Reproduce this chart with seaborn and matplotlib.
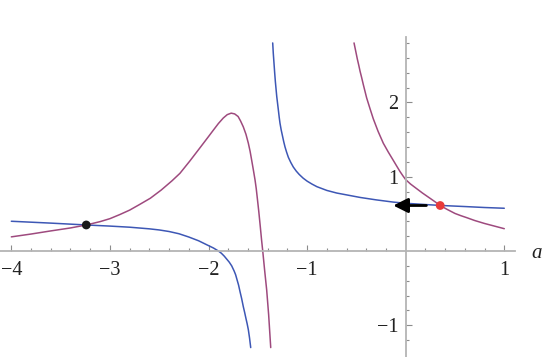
import numpy as np
import pandas as pd
import seaborn as sns
import matplotlib.pyplot as plt

# blue curve, two branches (a, value)
blue_left_a = [-4.0, -3.6, -3.24, -3.0, -2.8, -2.6, -2.5, -2.4, -2.3, -2.2, -2.1, -2.02,
               -1.95, -1.9, -1.87, -1.84, -1.815, -1.79, -1.765, -1.74, -1.725, -1.71,
               -1.695, -1.68, -1.664, -1.647, -1.633, -1.62, -1.608, -1.596, -1.584, -1.572]
blue_left_v = [0.40, 0.375, 0.35, 0.335, 0.32, 0.298, 0.283, 0.262, 0.232, 0.188, 0.137, 0.085,
               0.04, 0.0, -0.03, -0.07, -0.11, -0.15, -0.20, -0.27, -0.32, -0.39,
               -0.46, -0.55, -0.64, -0.75, -0.83, -0.91, -0.98, -1.06, -1.17, -1.30]
blue_right_a = [-1.349, -1.343, -1.336, -1.329, -1.322, -1.315, -1.308, -1.299, -1.29, -1.283,
                -1.275, -1.263, -1.25, -1.237, -1.224, -1.208, -1.19, -1.165, -1.14, -1.11,
                -1.08, -1.04, -1.0, -0.95, -0.9, -0.85, -0.8, -0.7, -0.6, -0.46, -0.3,
                -0.126, 0.0, 0.2, 0.35, 0.6, 0.8, 1.0]
blue_right_v = [2.80, 2.66, 2.53, 2.40, 2.28, 2.18, 2.08, 1.98, 1.88, 1.80,
                1.72, 1.63, 1.55, 1.47, 1.40, 1.33, 1.26, 1.19, 1.13, 1.075,
                1.03, 0.98, 0.94, 0.90, 0.865, 0.84, 0.815, 0.78, 0.755, 0.72, 0.688,
                0.658, 0.642, 0.625, 0.613, 0.598, 0.585, 0.575]

# purple curve, two branches
purple_left_a = [-4.0, -3.8, -3.61, -3.4, -3.24, -3.1, -3.0, -2.9, -2.8, -2.7, -2.59, -2.48,
                 -2.37, -2.29, -2.19, -2.086, -2.0, -1.95, -1.9, -1.85, -1.81, -1.77, -1.735,
                 -1.70, -1.675, -1.647, -1.62, -1.596, -1.578, -1.562, -1.545, -1.528, -1.516,
                 -1.505, -1.49, -1.475, -1.462, -1.45, -1.43, -1.41, -1.39, -1.369]
purple_left_v = [0.19, 0.228, 0.268, 0.31, 0.35, 0.395, 0.435, 0.49, 0.55, 0.625, 0.71, 0.82,
                 0.945, 1.045, 1.21, 1.39, 1.54, 1.628, 1.715, 1.79, 1.835, 1.855, 1.845,
                 1.81, 1.75, 1.67, 1.57, 1.45, 1.34, 1.22, 1.09, 0.955, 0.84,
                 0.71, 0.53, 0.33, 0.15, 0.0, -0.27, -0.525, -0.86, -1.30]
purple_right_a = [-0.524, -0.507, -0.49, -0.476, -0.463, -0.446, -0.43, -0.413, -0.396, -0.363,
                  -0.329, -0.28, -0.227, -0.176, -0.126, -0.09, -0.058, -0.03, 0.0, 0.05,
                  0.1, 0.17, 0.246, 0.3, 0.35, 0.42, 0.5, 0.56, 0.62, 0.7, 0.8, 0.9, 1.0]
purple_right_v = [2.80, 2.69, 2.58, 2.50, 2.42, 2.33, 2.24, 2.15, 2.06, 1.92,
                  1.78, 1.61, 1.45, 1.33, 1.22, 1.14, 1.07, 1.015, 0.96, 0.90,
                  0.85, 0.78, 0.71, 0.66, 0.612, 0.56, 0.505, 0.475, 0.448, 0.41, 0.37, 0.335, 0.30]

# marked points and arrow
black_pt = (-3.24, 0.35)
red_pt = (0.35, 0.612)
arrow_from = (0.21, 0.612)
arrow_to = (-0.126, 0.612)

x_ticks = [-4, -3, -2, -1, 1]
y_ticks = [-1, 1, 2]

blue = '#3d57b5'
purple = '#9e4a7e'

sns.set_style('white')
plt.rcParams['font.family'] = ['Liberation Serif', 'DejaVu Serif']

fig = plt.figure(figsize=(5.45, 3.57), dpi=100)
ax = fig.add_axes([0, 0, 1, 1])

for xs, ys, c in [(blue_left_a, blue_left_v, blue), (blue_right_a, blue_right_v, blue),
                  (purple_left_a, purple_left_v, purple), (purple_right_a, purple_right_v, purple)]:
    sns.lineplot(x=xs, y=ys, sort=False, estimator=None, color=c, lw=1.1, ax=ax)

ax.annotate('', xy=arrow_to, xytext=arrow_from,
            arrowprops=dict(arrowstyle='-|>', color='black', lw=2, mutation_scale=22,
                            shrinkA=0, shrinkB=0))

pts = pd.DataFrame({'a': [black_pt[0], red_pt[0]], 'v': [black_pt[1], red_pt[1]],
                    'kind': ['black', 'red']})
sns.scatterplot(data=pts, x='a', y='v', hue='kind', palette={'black': '#1a1a1a', 'red': '#e83a3a'},
                s=40, edgecolor='none', legend=False, zorder=5, ax=ax)

ax.set_xlim(-4.115, 1.413)
ax.set_ylim(-1.427, 3.378)

for side in ['top', 'right']:
    ax.spines[side].set_visible(False)
ax.spines['bottom'].set_position(('data', 0))
ax.spines['left'].set_position(('data', 0))
ax.spines['bottom'].set_bounds(-4.11, 1.11)
ax.spines['left'].set_bounds(-1.45, 2.88)
for side in ['bottom', 'left']:
    ax.spines[side].set_color('#b4b4b4')
    ax.spines[side].set_linewidth(1.3)

ax.set_xticks(x_ticks)
ax.set_xticklabels([f'{t}'.replace('-', '\u2212') for t in x_ticks])
ax.set_yticks(y_ticks)
ax.set_yticklabels([f'{t}'.replace('-', '\u2212') for t in y_ticks])
ax.set_xticks([t for t in np.round(np.arange(-4, 1.01, 0.2), 1) if t != round(t)], minor=True)
ax.set_yticks([t for t in np.round(np.arange(-1.2, 2.81, 0.2), 1) if t != round(t)], minor=True)

ax.tick_params(which='both', direction='in', color='#8c8c8c', width=0.8, labelsize=14.5,
               labelcolor='#222222', bottom=True, left=True, top=False, right=False)
ax.tick_params(which='major', length=4)
ax.tick_params(which='minor', length=2.4)
ax.tick_params(axis='x', pad=7)
ax.tick_params(axis='y', pad=5)
ax.set_xlabel('')
ax.set_ylabel('')

ax.text(1.332, -0.03, 'a', fontsize=15, style='italic', ha='center', va='center', color='#222222')

fig.savefig('out.png', dpi=100)
